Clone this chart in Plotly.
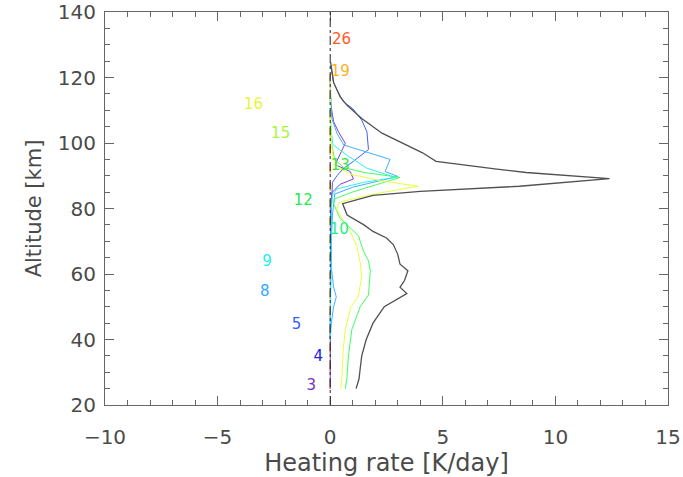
import plotly.graph_objects as go

# ---- data ----
total_alt = [25, 28, 31, 35, 40, 45, 50, 52, 54, 56, 58, 61, 63, 66, 69, 71, 73, 75, 78, 81.5, 84, 85.2, 86.8, 89.1, 91, 92, 94.4, 97, 100, 103, 107.5, 111.5, 114, 118.5, 124.6]
total_hr = [1.15, 1.28, 1.33, 1.4, 1.6, 1.9, 2.4, 2.9, 3.4, 3.1, 3.3, 3.45, 3.1, 3.0, 2.8, 2.5, 1.9, 1.5, 0.75, 0.55, 1.9, 4.0, 8.4, 12.4, 8.7, 7.4, 4.7, 4.1, 3.2, 2.3, 1.4, 0.75, 0.45, 0.15, 0.02]

yellow_alt = [25, 28, 37, 43, 50, 53, 59, 63.5, 68.5, 73, 79.5, 81.5, 82.3, 84.5, 86.8, 88.5, 90.5, 92.5, 96, 100, 110, 120]
yellow_hr = [0.47, 0.52, 0.58, 0.67, 0.92, 1.24, 1.4, 1.33, 1.18, 0.89, 0.3, 0.37, 0.6, 2.0, 3.9, 2.2, 0.9, 0.35, 0.12, 0.05, 0.01, 0.0]

green_alt = [25, 28, 35, 43, 50, 53.6, 61, 64, 67, 71.7, 77, 81.4, 83, 84.8, 89.5, 91, 92.5, 95, 100, 110]
green_hr = [0.67, 0.74, 0.81, 0.96, 1.33, 1.7, 1.78, 1.7, 1.48, 1.25, 0.44, 0.15, 0.22, 0.89, 3.1, 1.5, 0.6, 0.2, 0.05, 0.0]

lblue_alt = [40, 45, 50, 53, 56, 62, 70, 78, 84.4, 86.5, 89.8, 91.3, 95, 99.4, 103, 107.5, 115, 120]
lblue_hr = [0.0, 0.05, 0.15, 0.27, 0.15, 0.05, 0.05, 0.1, 0.2, 1.0, 3.0, 2.44, 2.66, 0.6, 0.3, 0.07, 0.02, 0.0]

blue_alt = [40, 60, 80, 88, 90, 92.3, 94.4, 98, 103.4, 107, 110.5, 112.5, 115.5, 118.5, 123.7]
blue_hr = [0.0, 0.02, 0.05, 0.1, 0.3, 0.6, 1.03, 1.7, 1.63, 1.4, 1.0, 0.6, 0.35, 0.15, 0.02]

purple_alt = [25, 60, 80, 84.8, 87.4, 89, 91.3, 93.4, 96.5, 99.9, 103.4, 106.5, 112, 120]
purple_hr = [0.0, 0.0, 0.02, 0.07, 0.44, 1.03, 0.89, 0.22, 0.44, 0.67, 0.37, 0.15, 0.02, 0.0]

cyan_alt = [40, 80, 84, 86, 88, 89.5, 92.3, 96, 99.5, 105, 115]
cyan_hr = [0.0, 0.05, 0.1, 0.3, 1.5, 2.9, 1.63, 0.8, 0.12, 0.02, 0.0]

orange_alt = [25, 40, 60, 80, 100, 122]
orange_hr = [0.0, 0.0, 0.0, 0.0, 0.0, 0.0]

x_ticks = [-10, -5, 0, 5, 10, 15]
x_ticktext = ["\u221210", "\u22125", "0", "5", "10", "15"]
y_ticks = [20, 40, 60, 80, 100, 120, 140]

label_text = ["26", "19", "16", "15", "13", "12", "10", "9", "8", "5", "4", "3"]
label_x = [0.5, 0.45, -3.4, -2.2, 0.45, -1.2, 0.4, -2.8, -2.9, -1.5, -0.53, -0.84]
label_y = [131.5, 121.6, 111.6, 102.8, 92.9, 82.3, 73.5, 63.5, 54.5, 44.5, 34.5, 25.7]
label_color = ["#ff5a1e", "#ffb020", "#e6f53a", "#a6f53a", "#3ce63c", "#28e650", "#1ef08c", "#1ef0f0", "#30aaff", "#3060ff", "#2020e6", "#7830c0"]

fig = go.Figure()

def add_line(x, y, color, width=1.0, dash=None):
    fig.add_trace(go.Scatter(x=x, y=y, mode="lines",
                             line=dict(color=color, width=width, dash=dash),
                             showlegend=False, hoverinfo="skip"))

add_line(orange_hr, orange_alt, "#ff9a20", 1.5, "dash")
add_line(purple_hr, purple_alt, "#8040c8")
add_line(blue_hr, blue_alt, "#4060ff")
add_line(lblue_hr, lblue_alt, "#40b0ff")
add_line(cyan_hr, cyan_alt, "#30f0f0")
add_line(green_hr, green_alt, "#40ff60")
add_line(yellow_hr, yellow_alt, "#e8ff40")
add_line(total_hr, total_alt, "#505050", 1.3)

fig.add_vline(x=0, line=dict(color="#222222", width=1, dash="dashdot"))

fig.add_trace(go.Scatter(x=label_x, y=label_y, mode="text", text=label_text,
                         textfont=dict(family="DejaVu Sans", size=15, color=label_color),
                         showlegend=False, hoverinfo="skip"))

axis_common = dict(showline=True, linecolor="#666666", linewidth=1, mirror="ticks",
                   ticks="inside", ticklen=9, tickcolor="#666666", showgrid=False,
                   zeroline=False, automargin=False, ticklabeloverflow="allow",
                   tickfont=dict(family="DejaVu Sans", size=20, color="#4a4a4a"))

fig.update_xaxes(range=[-10, 15], tickvals=x_ticks, ticktext=x_ticktext,
                 ticklabelstandoff=14,
                 minor=dict(ticks="inside", dtick=1, ticklen=5, tickcolor="#666666"),
                 title=dict(text="Heating rate [K/day]", standoff=2,
                            font=dict(family="DejaVu Sans", size=24, color="#4a4a4a")),
                 **axis_common)
fig.update_yaxes(range=[20, 140], tickvals=y_ticks,
                 ticklabelstandoff=4,
                 minor=dict(ticks="inside", dtick=5, ticklen=5, tickcolor="#666666"),
                 title=dict(text="Altitude [km]", standoff=10,
                            font=dict(family="DejaVu Sans", size=21, color="#4a4a4a")),
                 **axis_common)

fig.update_layout(width=683, height=477, plot_bgcolor="white", paper_bgcolor="white",
                  margin=dict(l=105, r=15, t=12, b=72))

fig.write_html("out.html", config={"displayModeBar": False},
               post_script="document.body.style.margin='0px';")
